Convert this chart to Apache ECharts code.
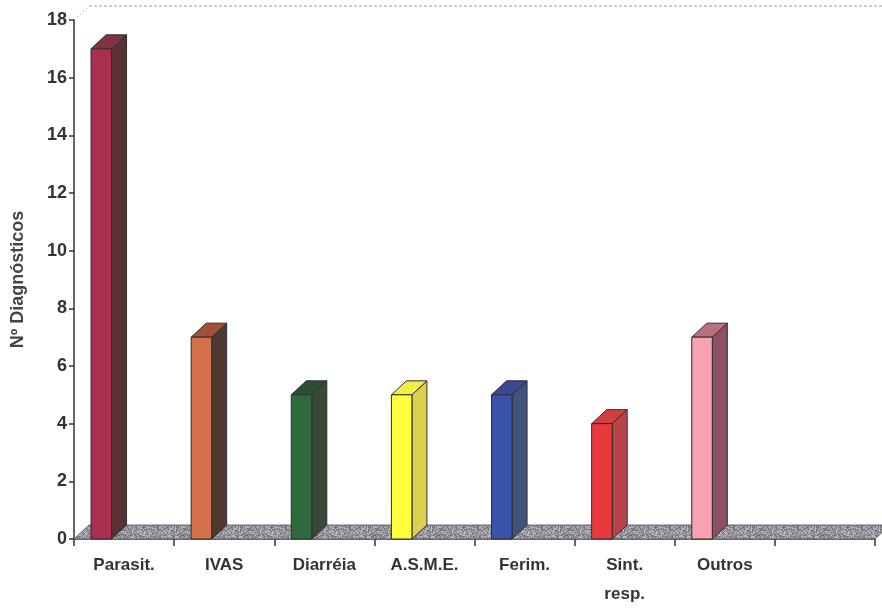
<!DOCTYPE html>
<html>
<head>
<meta charset="utf-8">
<script src="https://cdn.jsdelivr.net/npm/echarts@6/dist/echarts.min.js"></script>
<style>
  html, body { margin: 0; padding: 0; background: #ffffff; }
  #chart { width: 882px; height: 608px; }
</style>
</head>
<body>
<div id="chart"></div>
<script>
// Diagnoses per category
const categories = ['Parasit.', 'IVAS', 'Diarréia', 'A.S.M.E.', 'Ferim.', 'Sint.\nresp.', 'Outros', ''];
const counts = [17, 7, 5, 5, 5, 4, 7, null];
const yTicks = { min: 0, max: 18, step: 2 };

// Face colours of each 3D column: front, side, top
const frontColors = ['#a8304e', '#d4704a', '#2f6a3c', '#ffff3c', '#3a52a8', '#e83a3c', '#f7a2b2'];
const sideColors  = ['#5a3236', '#4e3830', '#38493a', '#d9d24e', '#44527e', '#b8434a', '#8a5262'];
const topColors   = ['#7e3442', '#a05238', '#2c4e34', '#f2ee46', '#3a4a92', '#d0403f', '#b87080'];

// Depth of the 3D projection in pixels
const DX = 15, DY = 14;

// Speckled grey fill for the floor, built from a coordinate hash
function speckle(base, size) {
  const c = document.createElement('canvas');
  c.width = size; c.height = size;
  const ctx = c.getContext('2d');
  const img = ctx.createImageData(size, size);
  for (let y = 0; y < size; y++) {
    for (let x = 0; x < size; x++) {
      let h = (x * 374761393 + y * 668265263) | 0;
      h = Math.imul(h ^ (h >>> 13), 1274126177);
      h = (h ^ (h >>> 16)) >>> 0;
      const d = ((h & 255) / 255 - 0.5) * 90;
      const k = (y * size + x) * 4;
      img.data[k] = Math.max(0, Math.min(255, base[0] + d));
      img.data[k + 1] = Math.max(0, Math.min(255, base[1] + d));
      img.data[k + 2] = Math.max(0, Math.min(255, base[2] + d));
      img.data[k + 3] = 255;
    }
  }
  ctx.putImageData(img, 0, 0);
  return c;
}
const floorPattern = { image: speckle([150, 148, 156], 64), repeat: 'repeat' };

const chart = echarts.init(document.getElementById('chart'), null, { renderer: 'canvas' });

function renderFloor(params, api) {
  const cs = params.coordSys;
  const x = cs.x, y = cs.y, w = cs.width, h = cs.height;
  return {
    type: 'group',
    children: [
      {
        type: 'polygon',
        shape: { points: [[x, y + h], [x + DX, y + h - DY], [x + w + DX, y + h - DY], [x + w, y + h]] },
        style: { fill: floorPattern, stroke: '#6a6870', lineWidth: 1 }
      },
      {
        type: 'line',
        shape: { x1: x + DX, y1: y - DY, x2: x + w + DX, y2: y - DY },
        style: { stroke: '#9a9a9a', lineWidth: 1, lineDash: [3, 2] }
      },
      {
        type: 'line',
        shape: { x1: x, y1: y, x2: x + DX, y2: y - DY },
        style: { stroke: '#b0b0b0', lineWidth: 1, lineDash: [2, 2] }
      }
    ]
  };
}

function renderColumn(params, api) {
  const i = api.value(0);
  const v = api.value(1);
  if (v == null || isNaN(v)) return;
  const top = api.coord([i, v]);
  const base = api.coord([i, 0]);
  const band = api.size([1, 0])[0];
  const x0 = top[0] - band * 0.33;
  const w = band * 0.205;
  const x1 = x0 + w;
  const yt = top[1], yb = base[1];
  const edge = '#2e2e2e';
  return {
    type: 'group',
    children: [
      {
        type: 'polygon',
        shape: { points: [[x1, yt], [x1 + DX, yt - DY], [x1 + DX, yb - DY], [x1, yb]] },
        style: { fill: sideColors[i], stroke: edge, lineWidth: 1 }
      },
      {
        type: 'polygon',
        shape: { points: [[x0, yt], [x0 + DX, yt - DY], [x1 + DX, yt - DY], [x1, yt]] },
        style: { fill: topColors[i], stroke: edge, lineWidth: 1 }
      },
      {
        type: 'rect',
        shape: { x: x0, y: yt, width: w, height: yb - yt },
        style: { fill: frontColors[i], stroke: edge, lineWidth: 1 }
      }
    ]
  };
}

const labelFont = {
  color: '#333333',
  fontFamily: '"Liberation Sans", Arial, sans-serif',
  fontWeight: 'bold',
  fontSize: 17
};

chart.setOption({
  animation: false,
  backgroundColor: '#ffffff',
  grid: { left: 74, right: 7, top: 20, bottom: 69, containLabel: false, outerBoundsMode: 'none' },
  xAxis: {
    type: 'category',
    data: categories,
    boundaryGap: true,
    axisLine: { lineStyle: { color: '#33333d', width: 1.5 } },
    axisTick: { show: true, length: 7, alignWithLabel: false, lineStyle: { color: '#33333d', width: 1.5 } },
    axisLabel: Object.assign({ margin: 12, lineHeight: 29, interval: 0 }, labelFont),
    splitLine: { show: false }
  },
  yAxis: {
    type: 'value',
    min: yTicks.min,
    max: yTicks.max,
    interval: yTicks.step,
    name: 'Nº Diagnósticos',
    nameLocation: 'middle',
    nameGap: 47,
    nameRotate: 90,
    nameTextStyle: {
      color: '#444',
      fontFamily: '"Liberation Sans", Arial, sans-serif',
      fontWeight: 'bold',
      fontSize: 18
    },
    axisLine: { show: true, lineStyle: { color: '#33333d', width: 1.5 } },
    axisTick: { show: true, length: 5, lineStyle: { color: '#33333d', width: 1.5 } },
    axisLabel: Object.assign({ margin: 7 }, labelFont, { fontSize: 18 }),
    splitLine: { show: false }
  },
  series: [
    {
      type: 'custom',
      name: 'floor',
      z: 1,
      silent: true,
      clip: false,
      renderItem: renderFloor,
      data: [[0, 0]]
    },
    {
      type: 'custom',
      name: 'Nº Diagnósticos',
      z: 2,
      clip: false,
      renderItem: renderColumn,
      encode: { x: 0, y: 1 },
      data: categories.map((c, i) => [i, counts[i]])
    }
  ]
});
</script>
</body>
</html>
